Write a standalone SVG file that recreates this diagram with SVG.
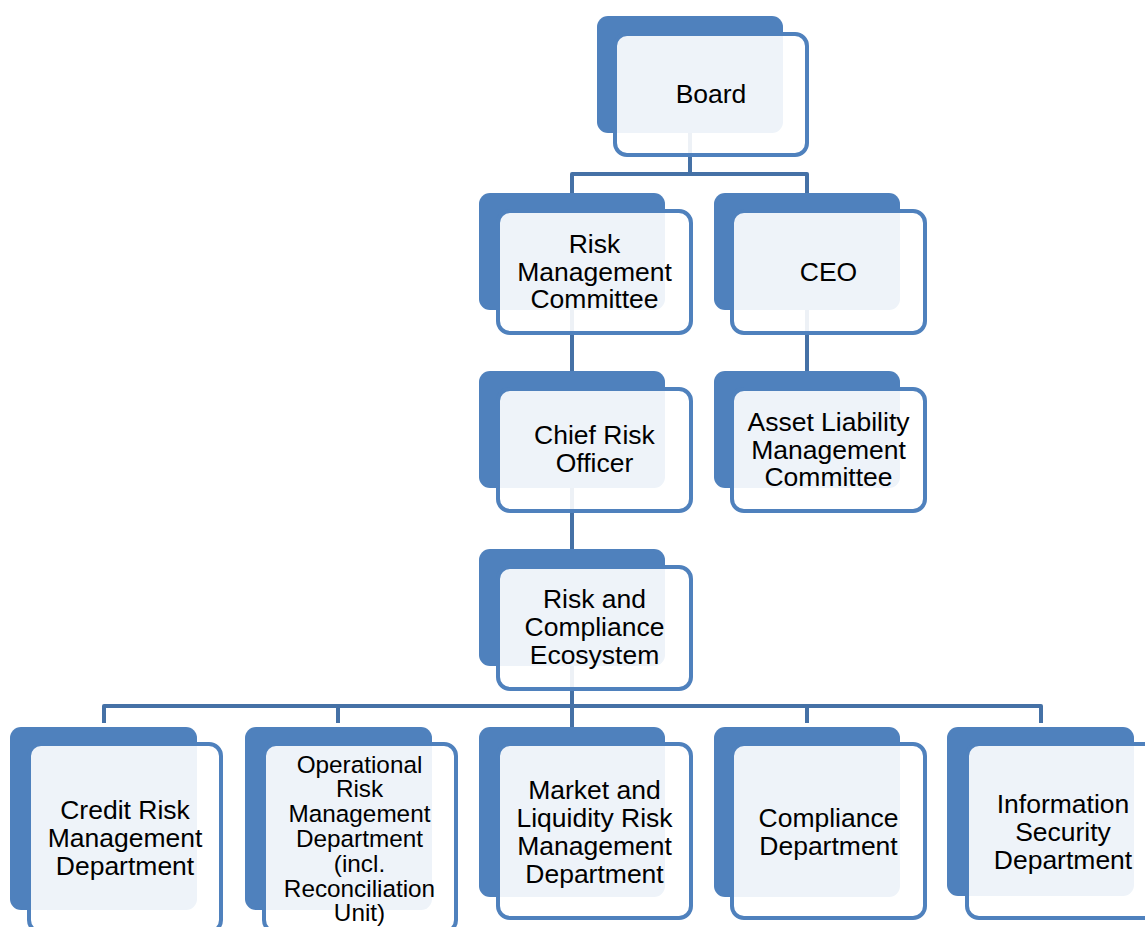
<svg xmlns="http://www.w3.org/2000/svg" width="1145" height="927" viewBox="0 0 1145 927">
  <style>
    .back { fill: #4F81BD; }
    .front { fill: #FFFFFF; fill-opacity: 0.9; stroke: #4F81BD; stroke-width: 4; }
    .lbl { font-family: "Liberation Sans", Arial, sans-serif; font-size: 26.5px; fill: #000000; text-anchor: middle; }
    .lbl.small { font-size: 24.3px; }
    .conn { fill: none; stroke: #4571A6; stroke-width: 4; stroke-linejoin: round; stroke-linecap: butt; }
  </style>

  <rect width="1145" height="927" fill="#FFFFFF"/>

  <!-- connectors (drawn beneath the boxes) -->
  <g id="connectors">
    <path class="conn" d="M690,132 V174 M572,193 V174 H807 V193"/>
    <path class="conn" d="M572,310 V371"/>
    <path class="conn" d="M807,310 V371"/>
    <path class="conn" d="M572,488 V549"/>
    <path class="conn" d="M572,666 V727"/>
    <path class="conn" d="M104,723 V706 H1041 V723"/>
    <path class="conn" d="M338,706 V723"/>
    <path class="conn" d="M807,706 V723"/>
  </g>

  <g id="board">
    <rect class="back" x="597" y="16" width="186" height="117" rx="11"/>
    <rect class="front" x="615" y="34" width="192" height="121" rx="12"/>
    <text class="lbl" x="711" y="103">Board</text>
  </g>

  <g id="risk-management-committee">
    <rect class="back" x="479" y="193" width="186" height="117" rx="11"/>
    <rect class="front" x="498" y="211" width="193" height="122" rx="12"/>
    <text class="lbl" x="594.5" y="253">Risk</text>
    <text class="lbl" x="594.5" y="280.5">Management</text>
    <text class="lbl" x="594.5" y="308">Committee</text>
  </g>

  <g id="ceo">
    <rect class="back" x="714" y="193" width="186" height="117" rx="11"/>
    <rect class="front" x="732" y="211" width="193" height="122" rx="12"/>
    <text class="lbl" x="828.5" y="281">CEO</text>
  </g>

  <g id="chief-risk-officer">
    <rect class="back" x="479" y="371" width="186" height="117" rx="11"/>
    <rect class="front" x="498" y="389" width="193" height="122" rx="12"/>
    <text class="lbl" x="594.5" y="444">Chief Risk</text>
    <text class="lbl" x="594.5" y="472">Officer</text>
  </g>

  <g id="asset-liability-management-committee">
    <rect class="back" x="714" y="371" width="186" height="117" rx="11"/>
    <rect class="front" x="732" y="389" width="193" height="122" rx="12"/>
    <text class="lbl" x="828.5" y="431">Asset Liability</text>
    <text class="lbl" x="828.5" y="458.5">Management</text>
    <text class="lbl" x="828.5" y="486">Committee</text>
  </g>

  <g id="risk-compliance-ecosystem">
    <rect class="back" x="479" y="549" width="186" height="117" rx="11"/>
    <rect class="front" x="498" y="567" width="193" height="122" rx="12"/>
    <text class="lbl" x="594.5" y="608">Risk and</text>
    <text class="lbl" x="594.5" y="636">Compliance</text>
    <text class="lbl" x="594.5" y="664">Ecosystem</text>
  </g>

  <g id="credit-risk">
    <rect class="back" x="10" y="727" width="187" height="183" rx="11"/>
    <rect class="front" x="29" y="744" width="192" height="188" rx="12"/>
    <text class="lbl" x="125" y="819">Credit Risk</text>
    <text class="lbl" x="125" y="847">Management</text>
    <text class="lbl" x="125" y="875">Department</text>
  </g>

  <g id="operational-risk">
    <rect class="back" x="245" y="727" width="187" height="183" rx="11"/>
    <rect class="front" x="264" y="744" width="192" height="188" rx="12"/>
    <text class="lbl small" x="359.5" y="772.5">Operational</text>
    <text class="lbl small" x="359.5" y="797.3">Risk</text>
    <text class="lbl small" x="359.5" y="822.1">Management</text>
    <text class="lbl small" x="359.5" y="846.9">Department</text>
    <text class="lbl small" x="359.5" y="871.7">(incl.</text>
    <text class="lbl small" x="359.5" y="896.5">Reconciliation</text>
    <text class="lbl small" x="359.5" y="921.3">Unit)</text>
  </g>

  <g id="market-liquidity-risk">
    <rect class="back" x="479" y="727" width="186" height="170" rx="11"/>
    <rect class="front" x="498" y="744" width="193" height="174" rx="12"/>
    <text class="lbl" x="594.5" y="799">Market and</text>
    <text class="lbl" x="594.5" y="827">Liquidity Risk</text>
    <text class="lbl" x="594.5" y="855">Management</text>
    <text class="lbl" x="594.5" y="883">Department</text>
  </g>

  <g id="compliance">
    <rect class="back" x="714" y="727" width="186" height="170" rx="11"/>
    <rect class="front" x="732" y="744" width="193" height="174" rx="12"/>
    <text class="lbl" x="828.5" y="827">Compliance</text>
    <text class="lbl" x="828.5" y="855">Department</text>
  </g>

  <g id="information-security">
    <rect class="back" x="947" y="727" width="187" height="169" rx="11"/>
    <rect class="front" x="967" y="744" width="192" height="174" rx="12"/>
    <text class="lbl" x="1063" y="813">Information</text>
    <text class="lbl" x="1063" y="841">Security</text>
    <text class="lbl" x="1063" y="869">Department</text>
  </g>
</svg>
